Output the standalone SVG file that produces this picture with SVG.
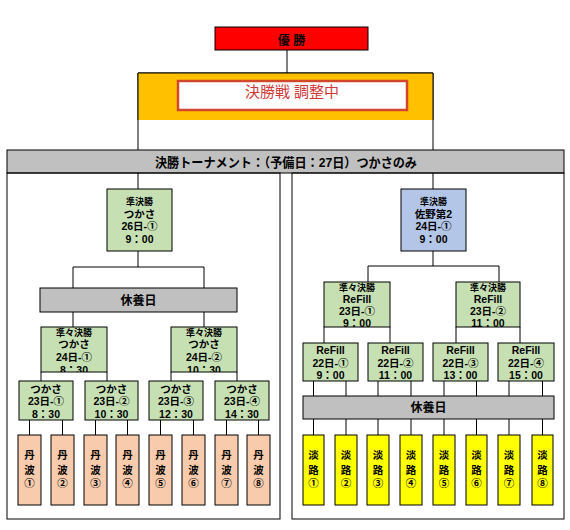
<svg xmlns="http://www.w3.org/2000/svg" width="570" height="530" viewBox="0 0 570 530">
<style>
.bx{stroke:#000;stroke-width:1}
.gr{fill:#C6E0B4}
.bl{fill:#B4C6E7}
.pe{fill:#F8CBAD}
.ye{fill:#FFFF00}
.gy{fill:#C0C0C0}
.ln{stroke:#000;stroke-width:1;fill:none}
text{font-family:"Liberation Sans","Noto Sans CJK JP",sans-serif;font-weight:bold;text-anchor:middle;fill:#000;font-size:10.5px}
.sm{font-size:9px}
.md{font-size:12px}
.ti{font-size:13px}
</style>
<defs>
<clipPath id="cq1" clipPathUnits="userSpaceOnUse"><rect x="41" y="327" width="66" height="45"/></clipPath>
<clipPath id="cq2" clipPathUnits="userSpaceOnUse"><rect x="171" y="327" width="66" height="45"/></clipPath>
</defs>
<rect width="570" height="530" fill="#fff"/>

<g id="connectors" class="ln">
<line x1="287" y1="50" x2="287" y2="73"/>
<line x1="138" y1="73" x2="138" y2="150"/>
<line x1="433" y1="73" x2="433" y2="150"/>
<line x1="138" y1="73" x2="433" y2="73"/>
<line x1="138" y1="173" x2="138" y2="189"/>
<line x1="433" y1="173" x2="433" y2="189"/>
<path d="M138 251V267M73 288V267H204V288"/>
<path d="M73 312V327M204 312V327"/>
<path d="M41 372V381M107 372V381M171 372V381M237 372V381"/>
<path d="M29.5 420V435M62.5 420V435M95.5 420V435M127.5 420V435M160.5 420V435M193.5 420V435M226.5 420V435M258.5 420V435"/>
<path d="M433 251V266M368 282V266H499V282"/>
<path d="M324 327V343M390 327V343M456 327V343M520 327V343"/>
<path d="M313.5 381V396M346 381V396M378 381V396M411 381V396M444 381V396M476.5 381V396M509 381V396M542.5 381V396"/>
<path d="M313.5 419V435M346 419V435M378 419V435M411 419V435M444 419V435M476.5 419V435M509 419V435M542.5 419V435"/>
</g>

<g id="champion">
<rect x="215" y="27" width="153" height="23" fill="#FF0000" class="bx"/>
<text x="291.5" y="45" class="md" xml:space="preserve">優 勝</text>
</g>

<g id="final">
<rect x="138" y="73" width="295" height="47" fill="#FFC000"/>
<line x1="138" y1="73" x2="433" y2="73" class="ln"/>
<line x1="138" y1="73" x2="138" y2="120" class="ln"/>
<line x1="433" y1="73" x2="433" y2="120" class="ln"/>
<rect x="178" y="81" width="229" height="29" fill="#fff" stroke="#D2472A" stroke-width="2.5"/>
<text x="292" y="96.5" style="font-size:15px;font-weight:normal;fill:#D03A3A">決勝戦 調整中</text>
</g>

<g id="title">
<rect x="7" y="150" width="557" height="23" class="bx gy"/>
<text x="286" y="166.5" class="ti" textLength="262" lengthAdjust="spacingAndGlyphs">決勝トーナメント：（予備日：27日）つかさのみ</text>
</g>

<g id="panel-left"><rect x="7" y="173" width="273" height="346" class="ln"/></g>
<g id="panel-right"><rect x="292" y="173" width="272" height="346" class="ln"/></g>

<g id="semi-left">
<rect x="107" y="189" width="65" height="62" class="bx gr"/>
<text x="139.5" y="205" class="sm">準決勝</text>
<text x="139.5" y="218">つかさ</text>
<text x="139.5" y="229.6">26日-①</text>
<text x="139.5" y="243">9：00</text>
</g>

<g id="rest-left">
<rect x="40" y="288" width="197" height="24" class="bx gy"/>
<text x="138.5" y="305" class="md">休養日</text>
</g>

<g id="qf-left-1">
<rect x="41" y="327" width="66" height="45" class="gr"/>
<g clip-path="url(#cq1)">
<text x="74" y="335.5" class="sm">準々決勝</text>
<text x="74" y="348">つかさ</text>
<text x="74" y="361">24日-①</text>
<text x="74" y="374">8：30</text>
</g>
<rect x="41" y="327" width="66" height="45" class="bx" fill="none"/>
</g>

<g id="qf-left-2">
<rect x="171" y="327" width="66" height="45" class="gr"/>
<g clip-path="url(#cq2)">
<text x="204" y="335.5" class="sm">準々決勝</text>
<text x="204" y="348">つかさ</text>
<text x="204" y="361">24日-②</text>
<text x="204" y="374">10：30</text>
</g>
<rect x="171" y="327" width="66" height="45" class="bx" fill="none"/>
</g>

<g id="r1-left-1">
<rect x="19" y="381" width="54" height="39" class="bx gr"/>
<text x="46" y="393">つかさ</text>
<text x="46" y="405.2">23日-①</text>
<text x="46" y="417.5">8：30</text>
</g>
<g id="r1-left-2">
<rect x="85" y="381" width="53" height="39" class="bx gr"/>
<text x="111.5" y="393">つかさ</text>
<text x="111.5" y="405.2">23日-②</text>
<text x="111.5" y="417.5">10：30</text>
</g>
<g id="r1-left-3">
<rect x="149" y="381" width="54" height="39" class="bx gr"/>
<text x="176" y="393">つかさ</text>
<text x="176" y="405.2">23日-③</text>
<text x="176" y="417.5">12：30</text>
</g>
<g id="r1-left-4">
<rect x="215" y="381" width="54" height="39" class="bx gr"/>
<text x="242" y="393">つかさ</text>
<text x="242" y="405.2">23日-④</text>
<text x="242" y="417.5">14：30</text>
</g>

<g id="tamba-1"><rect x="18" y="435" width="23" height="70" class="bx pe"/><text x="29.5" y="459">丹</text><text x="29.5" y="474">波</text><text x="29.5" y="487">①</text></g>
<g id="tamba-2"><rect x="51" y="435" width="23" height="70" class="bx pe"/><text x="62.5" y="459">丹</text><text x="62.5" y="474">波</text><text x="62.5" y="487">②</text></g>
<g id="tamba-3"><rect x="84" y="435" width="23" height="70" class="bx pe"/><text x="95.5" y="459">丹</text><text x="95.5" y="474">波</text><text x="95.5" y="487">③</text></g>
<g id="tamba-4"><rect x="116" y="435" width="23" height="70" class="bx pe"/><text x="127.5" y="459">丹</text><text x="127.5" y="474">波</text><text x="127.5" y="487">④</text></g>
<g id="tamba-5"><rect x="149" y="435" width="23" height="70" class="bx pe"/><text x="160.5" y="459">丹</text><text x="160.5" y="474">波</text><text x="160.5" y="487">⑤</text></g>
<g id="tamba-6"><rect x="182" y="435" width="23" height="70" class="bx pe"/><text x="193.5" y="459">丹</text><text x="193.5" y="474">波</text><text x="193.5" y="487">⑥</text></g>
<g id="tamba-7"><rect x="215" y="435" width="23" height="70" class="bx pe"/><text x="226.5" y="459">丹</text><text x="226.5" y="474">波</text><text x="226.5" y="487">⑦</text></g>
<g id="tamba-8"><rect x="247" y="435" width="23" height="70" class="bx pe"/><text x="258.5" y="459">丹</text><text x="258.5" y="474">波</text><text x="258.5" y="487">⑧</text></g>

<g id="semi-right">
<rect x="401" y="189" width="65" height="62" class="bx bl"/>
<text x="433.5" y="205" class="sm">準決勝</text>
<text x="433.5" y="218">佐野第2</text>
<text x="433.5" y="229.6">24日-①</text>
<text x="433.5" y="243">9：00</text>
</g>

<g id="qf-right-1">
<rect x="324" y="282" width="66" height="45" class="bx gr"/>
<text x="357" y="290.5" class="sm">準々決勝</text>
<text x="357" y="303">ReFill</text>
<text x="357" y="315">23日-①</text>
<text x="357" y="327">9：00</text>
</g>
<g id="qf-right-2">
<rect x="456" y="282" width="64" height="45" class="bx gr"/>
<text x="488" y="290.5" class="sm">準々決勝</text>
<text x="488" y="303">ReFill</text>
<text x="488" y="315">23日-②</text>
<text x="488" y="327">11：00</text>
</g>

<g id="r1-right-1">
<rect x="303" y="343" width="55" height="38" class="bx gr"/>
<text x="330.5" y="354">ReFill</text>
<text x="330.5" y="367">22日-①</text>
<text x="330.5" y="379">9：00</text>
</g>
<g id="r1-right-2">
<rect x="368" y="343" width="55" height="38" class="bx gr"/>
<text x="395.5" y="354">ReFill</text>
<text x="395.5" y="367">22日-②</text>
<text x="395.5" y="379">11：00</text>
</g>
<g id="r1-right-3">
<rect x="433" y="343" width="55" height="38" class="bx gr"/>
<text x="460.5" y="354">ReFill</text>
<text x="460.5" y="367">22日-③</text>
<text x="460.5" y="379">13：00</text>
</g>
<g id="r1-right-4">
<rect x="498" y="343" width="56" height="38" class="bx gr"/>
<text x="526" y="354">ReFill</text>
<text x="526" y="367">22日-④</text>
<text x="526" y="379">15：00</text>
</g>

<g id="rest-right">
<rect x="303" y="396" width="251" height="23" class="bx gy"/>
<text x="428.5" y="412" class="md">休養日</text>
</g>

<g id="awaji-1"><rect x="303" y="435" width="21" height="70" class="bx ye"/><text x="313.5" y="459">淡</text><text x="313.5" y="474">路</text><text x="313.5" y="487">①</text></g>
<g id="awaji-2"><rect x="335" y="435" width="22" height="70" class="bx ye"/><text x="346" y="459">淡</text><text x="346" y="474">路</text><text x="346" y="487">②</text></g>
<g id="awaji-3"><rect x="367" y="435" width="22" height="70" class="bx ye"/><text x="378" y="459">淡</text><text x="378" y="474">路</text><text x="378" y="487">③</text></g>
<g id="awaji-4"><rect x="400" y="435" width="22" height="70" class="bx ye"/><text x="411" y="459">淡</text><text x="411" y="474">路</text><text x="411" y="487">④</text></g>
<g id="awaji-5"><rect x="433" y="435" width="22" height="70" class="bx ye"/><text x="444" y="459">淡</text><text x="444" y="474">路</text><text x="444" y="487">⑤</text></g>
<g id="awaji-6"><rect x="466" y="435" width="21" height="70" class="bx ye"/><text x="476.5" y="459">淡</text><text x="476.5" y="474">路</text><text x="476.5" y="487">⑥</text></g>
<g id="awaji-7"><rect x="498" y="435" width="22" height="70" class="bx ye"/><text x="509" y="459">淡</text><text x="509" y="474">路</text><text x="509" y="487">⑦</text></g>
<g id="awaji-8"><rect x="532" y="435" width="21" height="70" class="bx ye"/><text x="542.5" y="459">淡</text><text x="542.5" y="474">路</text><text x="542.5" y="487">⑧</text></g>
</svg>
